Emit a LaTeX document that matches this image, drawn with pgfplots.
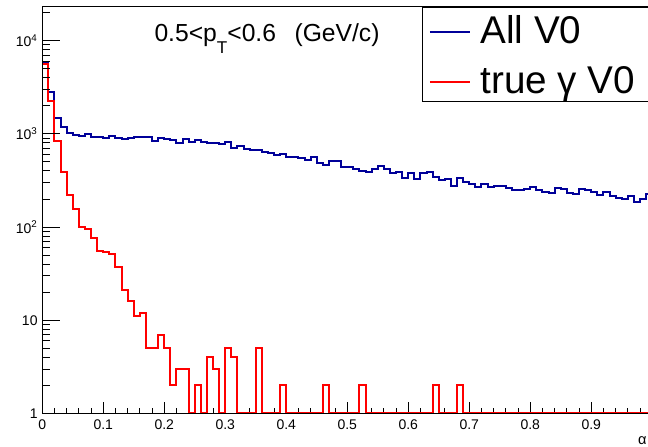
\documentclass[border=0pt]{standalone}
\usepackage{fontspec}
\setmainfont{Liberation Sans}
\usepackage{pgfplots}
\pgfplotsset{compat=1.18}
\definecolor{rootblue}{RGB}{0,0,153}
\definecolor{rootred}{RGB}{255,0,0}
\begin{document}
\begin{tikzpicture}
\begin{axis}[
  at={(0,0)}, anchor=south west,
  scale only axis, width=457.5pt, height=304.875pt,
  xmin=0, xmax=1, ymin=1, ymax=23000, ymode=log,
  axis line style={line width=0.75pt},
  tick pos=left, tick align=inside,
  tick style={line width=0.75pt, black},
  clip=false,
  ytick=\empty,
  xtick={0,0.1,0.2,0.3,0.4,0.5,0.6,0.7,0.8,0.9,1},
  xticklabels={0,0.1,0.2,0.3,0.4,0.5,0.6,0.7,0.8,0.9,1},
  minor x tick num=4,
  major tick length=8.8pt, minor tick length=3.8pt,
  xticklabel style={font=\fontsize{10.5}{12}\selectfont, yshift=-1.5pt},
  xlabel={α},
  xlabel style={at={(rel axis cs:1,0)}, anchor=base east, xshift=-4pt, yshift=-22.9pt, font=\fontsize{11}{13}\selectfont, inner sep=0pt},
]
\addplot[const plot, rootblue, line width=1.5pt] coordinates {
(0.00,5870) (0.01,2800) (0.02,1480) (0.03,1195) (0.04,1030) (0.05,973) (0.06,957) (0.07,997) (0.08,933) (0.09,933)
(0.10,911) (0.11,957) (0.12,911) (0.13,875) (0.14,911) (0.15,933) (0.16,933) (0.17,933) (0.18,846) (0.19,897)
(0.20,875) (0.21,861) (0.22,805) (0.23,875) (0.24,826) (0.25,861) (0.26,826) (0.27,805) (0.28,793) (0.29,773)
(0.30,812) (0.31,701) (0.32,742) (0.33,690) (0.34,672) (0.35,672) (0.36,644) (0.37,619) (0.38,594) (0.39,609)
(0.40,569) (0.41,569) (0.42,556) (0.43,525) (0.44,561) (0.45,491) (0.46,464) (0.47,512) (0.48,512) (0.49,438)
(0.50,438) (0.51,424) (0.52,403) (0.53,393) (0.54,424) (0.55,453) (0.56,417) (0.57,378) (0.58,387) (0.59,334)
(0.60,378) (0.61,326) (0.62,378) (0.63,387) (0.64,342) (0.65,320) (0.66,328) (0.67,276) (0.68,334) (0.69,307)
(0.70,288) (0.71,271) (0.72,288) (0.73,271) (0.74,278) (0.75,278) (0.76,261) (0.77,250) (0.78,250) (0.79,256)
(0.80,267) (0.81,250) (0.82,240) (0.83,234) (0.84,261) (0.85,254) (0.86,234) (0.87,225) (0.88,254) (0.89,250)
(0.90,240) (0.91,221) (0.92,240) (0.93,216) (0.94,207) (0.95,200) (0.96,217) (0.97,187) (0.98,200) (0.99,225)
(1.00,225)
};
\addplot[const plot, rootred, line width=1.5pt] coordinates {
(0.00,5620) (0.01,2270) (0.02,839) (0.03,387) (0.04,221) (0.05,157) (0.06,100) (0.07,95) (0.08,77) (0.09,55)
(0.10,54) (0.11,51) (0.12,37) (0.13,21) (0.14,16) (0.15,11) (0.16,12) (0.17,5) (0.18,5) (0.19,7)
(0.20,5) (0.21,2) (0.22,3) (0.23,3) (0.24,1) (0.25,2) (0.26,1) (0.27,4) (0.28,3) (0.29,1)
(0.30,5) (0.31,4) (0.32,1) (0.33,1) (0.34,1) (0.35,5) (0.36,1) (0.37,1) (0.38,1) (0.39,2)
(0.40,1) (0.41,1) (0.42,1) (0.43,1) (0.44,1) (0.45,1) (0.46,2) (0.47,1) (0.48,1) (0.49,1)
(0.50,1) (0.51,1) (0.52,2) (0.53,1) (0.54,1) (0.55,1) (0.56,1) (0.57,1) (0.58,1) (0.59,1)
(0.60,1) (0.61,1) (0.62,1) (0.63,1) (0.64,2) (0.65,1) (0.66,1) (0.67,1) (0.68,2) (0.69,1)
(0.70,1) (0.71,1) (0.72,1) (0.73,1) (0.74,1) (0.75,1) (0.76,1) (0.77,1) (0.78,1) (0.79,1)
(0.80,1) (0.81,1) (0.82,1) (0.83,1) (0.84,1) (0.85,1) (0.86,1) (0.87,1) (0.88,1) (0.89,1)
(0.90,1) (0.91,1) (0.92,1) (0.93,1) (0.94,1) (0.95,1) (0.96,1) (0.97,1) (0.98,1) (0.99,1)
(1.00,1)
};
\node[anchor=base west, inner sep=0pt, font=\fontsize{18.5}{22}\selectfont] at (rel axis cs:0.1836,0.9146) {0.5<p\raisebox{-8.5pt}{\fontsize{12.8}{14}\selectfont T}<0.6\hspace{0.75em}(GeV/c)};
\node[anchor=north west, draw=black, fill=white, line width=0.75pt, inner xsep=5.7pt, inner ysep=0pt, align=left, font=\fontsize{29}{37.2}\selectfont] at (rel axis cs:0.6220,1) {\rule{0pt}{27.15pt}\textcolor{rootblue}{\rule[7.95pt]{30.5pt}{1.5pt}}\hspace{7.5pt}All V0\\
\textcolor{rootred}{\rule[7.95pt]{30.5pt}{1.5pt}}\hspace{7.5pt}true γ V0\hspace{24pt}\rule[-5.8pt]{0pt}{5.8pt}};
\end{axis}
\begin{axis}[
  at={(0,0)}, anchor=south west,
  scale only axis, width=457.5pt, height=304.875pt,
  xmin=0, xmax=1, ymin=1, ymax=23000, ymode=log,
  axis line style={line width=0.75pt},
  tick pos=left, tick align=inside,
  tick style={line width=0.75pt, black},
  xtick=\empty,
  ytick={1,10,100,1000,10000},
  yticklabels={1,10,10\textsuperscript{2},10\textsuperscript{3},10\textsuperscript{4}},
  minor ytick={2,3,4,5,6,7,8,9,20,30,40,50,60,70,80,90,200,300,400,500,600,700,800,900,2000,3000,4000,5000,6000,7000,8000,9000,20000},
  major tick length=13.3pt, minor tick length=5.8pt,
  yticklabel style={font=\fontsize{10.5}{12}\selectfont},
]
\end{axis}
\pgfresetboundingbox
\useasboundingbox (-31.7pt,-25.1pt) rectangle (454.3pt,310.1pt);
\end{tikzpicture}
\end{document}
